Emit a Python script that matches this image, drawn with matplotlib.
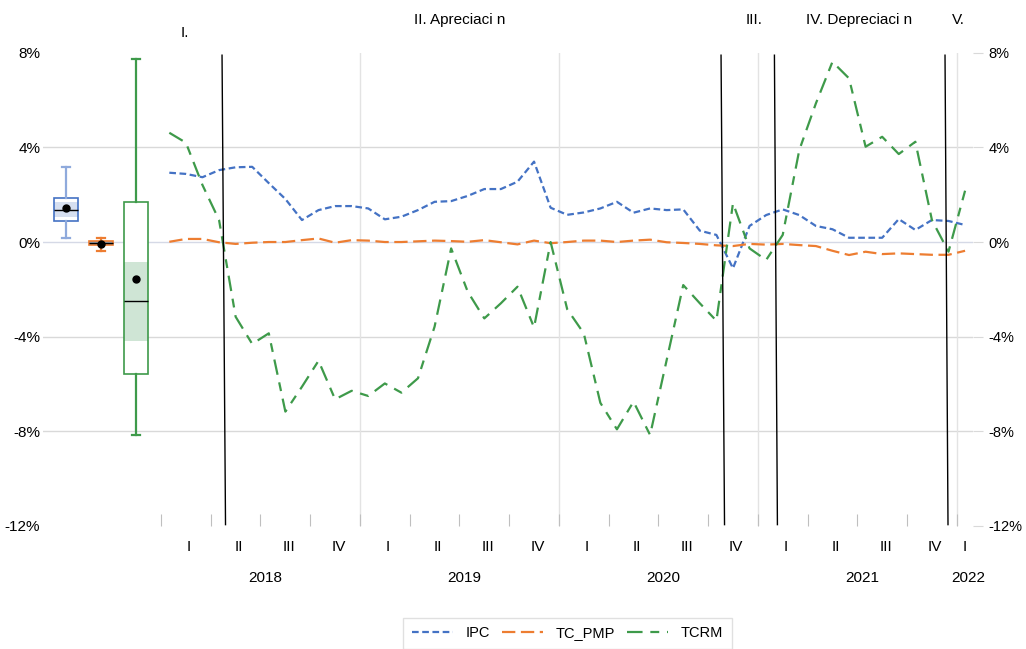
import numpy as np
import matplotlib
matplotlib.use('Agg')
import matplotlib.pyplot as plt
from matplotlib.transforms import blended_transform_factory
from matplotlib.patches import Rectangle

plt.rcParams['font.family'] = ['Liberation Sans Narrow', 'Liberation Sans', 'DejaVu Sans']

# ---------------- datos (variaciones %, ene-2018 a ene-2022) ----------------
ipc = [2.93, 2.88, 2.74, 3.04, 3.16, 3.18, 2.49, 1.82, 0.93, 1.35, 1.52, 1.52,
       1.42, 0.96, 1.07, 1.35, 1.70, 1.73, 1.95, 2.24, 2.24, 2.55, 3.40, 1.45,
       1.15, 1.25, 1.42, 1.70, 1.24, 1.42, 1.35, 1.38, 0.48, 0.30, -1.11, 0.68,
       1.14, 1.38, 1.14, 0.68, 0.54, 0.18, 0.18, 0.18, 0.97, 0.51, 0.93, 0.89,
       0.72]
tc_pmp = [0.01, 0.13, 0.13, -0.01, -0.08, -0.03, 0.00, 0.00, 0.08, 0.15, -0.03, 0.08,
          0.06, 0.00, 0.00, 0.03, 0.06, 0.04, 0.01, 0.08, -0.01, -0.10, 0.06, -0.05,
          0.00, 0.06, 0.06, 0.00, 0.06, 0.10, -0.01, -0.04, -0.08, -0.14, -0.17, -0.08,
          -0.11, -0.08, -0.13, -0.17, -0.37, -0.55, -0.41, -0.51, -0.48, -0.51, -0.54, -0.54,
          -0.37]
tcrm = [4.62, 4.20, 2.41, 0.93, -3.16, -4.31, -3.86, -7.17, -6.12, -5.02, -6.65, -6.29,
        -6.51, -5.98, -6.37, -5.76, -3.58, -0.27, -2.10, -3.23, -2.59, -1.89, -3.61, 0.00,
        -2.84, -3.86, -6.80, -7.92, -6.75, -8.16, -4.99, -1.82, -2.59, -3.33, 1.64, -0.27,
        -0.76, 0.30, 3.89, 5.86, 7.62, 6.92, 4.03, 4.45, 3.72, 4.24, 0.93, -0.41,
        2.17]

series_names = ['IPC', 'TC_PMP', 'TCRM']
years = ['2018', '2019', '2020', '2021', '2022']
quarters = ['I', 'II', 'III', 'IV']

# resumen de cajas
box_q1 = [0.90, -0.14, -5.58]
box_med = [1.34, -0.06, -2.51]
box_q3 = [1.86, 0.04, 1.70]
box_lo = [0.16, -0.37, -8.16]
box_hi = [3.17, 0.16, 7.72]
box_mean = [1.45, -0.07, -1.56]
box_band = [(1.07, 1.70), (-0.14, 0.04), (-4.17, -0.83)]

# fases (separadores: mes arriba, mes abajo)
phase_lines = [(3.18, 3.39), (33.28, 33.49), (36.50, 36.68), (46.79, 46.97)]
phase_labels = ['I.', 'II. Apreciaci n', 'III.', 'IV. Depreciaci n', 'V.']
phase_label_x = [0.95, 17.5, 35.3, 41.6, 47.6]

colors = ['#4472C4', '#ED7D31', '#3E9A4A']
whisk_colors = ['#8FAADC', '#ED7D31', '#3E9A4A']
band_colors = ['#D6DFF0', '#9AA3B3', '#CFE5D5']
styles = [(0, (3, 1.6)), (0, (6, 2.5)), (0, (7, 3.5, 4, 3.5))]

# ---------------- figura ----------------
fig = plt.figure(figsize=(10.26, 6.49), dpi=100)
ax = fig.add_axes([0.0419, 0.1898, 0.9068, 0.7288])

months = np.arange(len(ipc))
for vals, name, c, ls in zip([ipc, tc_pmp, tcrm], series_names, colors, styles):
    ax.plot(months, vals, color=c, linestyle=ls, linewidth=1.6, label=name, zorder=4)

# box plots a la izquierda
box_pos = [-6.23, -4.12, -2.01]
for i in range(3):
    lo, hi = box_band[i]
    ax.add_patch(Rectangle((box_pos[i] - 0.72, box_q1[i]), 1.44, box_q3[i] - box_q1[i],
                           facecolor='white', edgecolor='none', zorder=2.5))
    ax.add_patch(Rectangle((box_pos[i] - 0.72, lo), 1.44, hi - lo, facecolor=band_colors[i],
                           edgecolor='none', zorder=2.6))
    stats = [dict(med=box_med[i], q1=box_q1[i], q3=box_q3[i], whislo=box_lo[i],
                  whishi=box_hi[i], mean=box_mean[i], fliers=[])]
    ax.bxp(stats, positions=[box_pos[i]], widths=1.45, showmeans=True, patch_artist=True,
           capwidths=0.45,
           boxprops=dict(facecolor='none', edgecolor=colors[i], linewidth=1.2),
           whiskerprops=dict(color=whisk_colors[i], linewidth=1.6),
           capprops=dict(color=whisk_colors[i], linewidth=1.6),
           medianprops=dict(color='black', linewidth=1.0),
           meanprops=dict(marker='o', markerfacecolor='black', markeredgecolor='black', markersize=5),
           zorder=3)

ax.set_xlim(-7.62, 48.5)
ax.set_ylim(-12, 8)

# rejilla
for v in [-8, -4, 0, 4]:
    ax.axhline(v, color='#D9D9D9' if v != 0 else '#D5D9E6', linewidth=1.0, zorder=1)
for yb in [11.5, 23.5, 35.5, 47.5]:
    ax.axvline(yb, color='#E3E3E3', linewidth=1.0, zorder=1)

# eje x: marcas por trimestre, etiquetas de trimestre y año
ax.set_xticks(np.arange(-0.5, 48, 3))
ax.tick_params(axis='x', direction='in', length=9, color='#BFBFBF', labelbottom=False)
trans = blended_transform_factory(ax.transData, ax.transAxes)
for k in range(17):
    xq = k * 3 + 1.2 if k < 16 else 48.0
    ax.text(xq, -0.045, quarters[k % 4], transform=trans, ha='center', va='center', fontsize=11)
for j, yr in enumerate(years):
    xc = j * 12 + 5.8 if j < 4 else 48.2
    ax.text(xc, -0.11, yr, transform=trans, ha='center', va='center', fontsize=11)

# eje y izquierdo y derecho
yt = [-12, -8, -4, 0, 4, 8]
ax.set_yticks(yt)
ax.set_yticklabels([f'{v}%' for v in yt], fontsize=11)
ax.tick_params(axis='y', length=0, pad=2)
ax2 = ax.twinx()
ax2.set_ylim(ax.get_ylim())
ax2.set_yticks(yt)
ax2.set_yticklabels([f'{v}%' for v in yt], fontsize=10.5)
ax2.tick_params(axis='y', length=7, color='#D9D9D9', pad=4)
for a in (ax, ax2):
    for s in a.spines.values():
        s.set_visible(False)

# separadores de fases
for top, bot in phase_lines:
    ax.plot([top, bot], [7.9, -11.95], color='black', linewidth=1.0, zorder=6, clip_on=False)
for lbl, xp in zip(phase_labels, phase_label_x):
    yy = 1.042 if lbl == 'I.' else 1.069
    ax.text(xp, yy, lbl, transform=trans, ha='center', va='center', fontsize=11)

fig.legend(loc='center', bbox_to_anchor=(0.553, 0.024), ncol=3, frameon=True, fancybox=False,
           edgecolor='#D9D9D9', fontsize=10.5, handlelength=2.8, handletextpad=0.9,
           columnspacing=0.8, borderpad=0.6)

fig.savefig('out.png', dpi=100)
